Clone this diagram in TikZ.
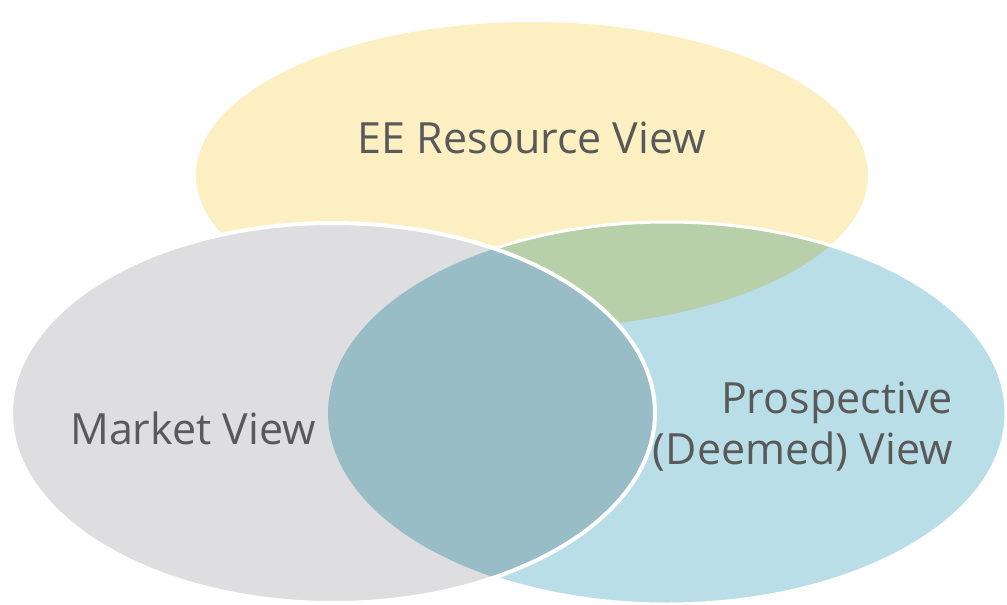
\documentclass[tikz,border=0pt]{standalone}
\usepackage{fontspec}
\setmainfont{Open Sans}
\definecolor{cyel}{RGB}{252,240,194}
\definecolor{cgrey}{RGB}{222,222,224}
\definecolor{cblue}{RGB}{185,222,231}
\definecolor{cgreen}{RGB}{183,208,170}
\definecolor{cteal}{RGB}{153,189,199}
\definecolor{ctext}{RGB}{89,89,89}
\begin{document}
\begin{tikzpicture}[x=1pt,y=-1pt,
  lbl/.style={text=ctext,font=\fontsize{43}{51}\selectfont,inner sep=0pt}]
\useasboundingbox (0,0) rectangle (1007,605);
\def\yell{(532,175) ellipse [x radius=336,y radius=153]}
\def\grey{(333,413) ellipse [x radius=322,y radius=190]}
\def\blue{(667,413) ellipse [x radius=339,y radius=191]}
% yellow
\fill[cyel] \yell;
% blue
\fill[cblue] \blue;
\begin{scope}
  \clip \blue;
  \fill[cgreen] \yell;
\end{scope}
\draw[white,line width=3pt] \blue;
% grey
\fill[cgrey] \grey;
\begin{scope}
  \clip \grey;
  \fill[cteal] \blue;
\end{scope}
\draw[white,line width=4pt] \grey;
% labels
\node[lbl] (ee) at (532,138) {EE Resource View};
\node[lbl] (mk) at (193,428) {Market View};
\node[lbl,align=right,anchor=east] (pr) at (953,427) {Prospective\\(Deemed) View};
\end{tikzpicture}
\end{document}
